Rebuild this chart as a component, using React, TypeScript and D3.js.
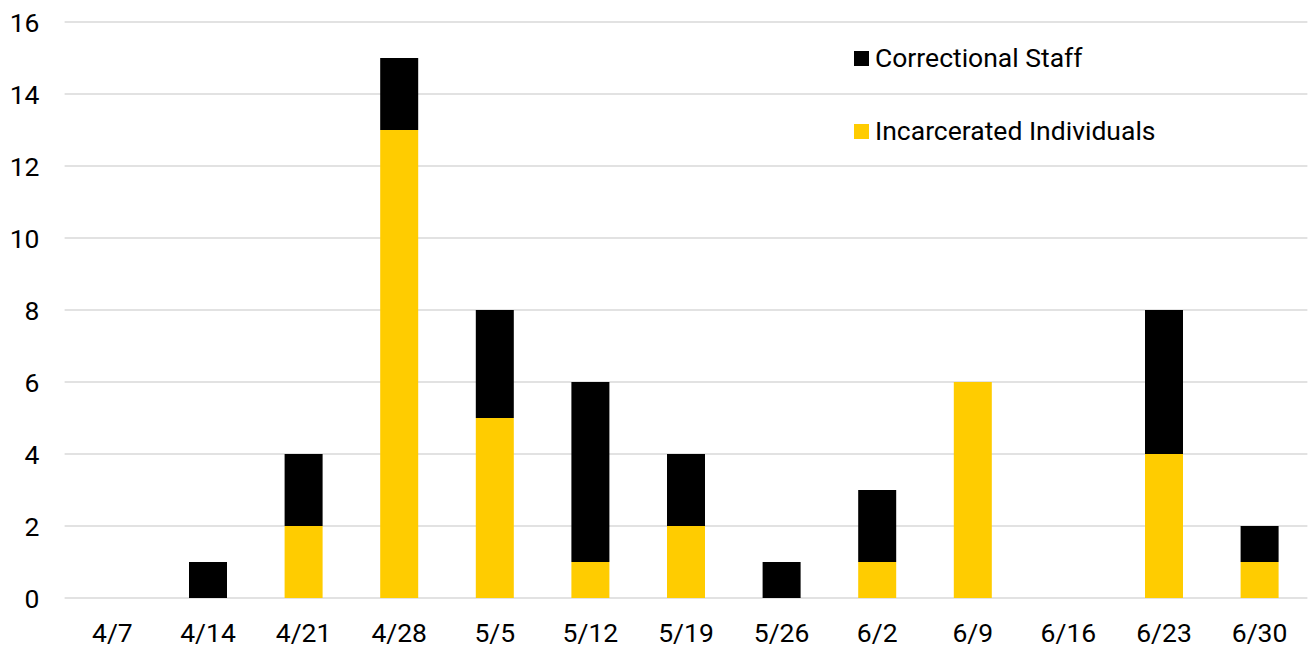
import React from "react";
import * as d3 from "d3";

const categories = ["4/7", "4/14", "4/21", "4/28", "5/5", "5/12", "5/19", "5/26", "6/2", "6/9", "6/16", "6/23", "6/30"];
const incarcerated = [0, 0, 2, 13, 5, 1, 2, 0, 1, 6, 0, 4, 1];
const staff = [0, 1, 2, 2, 3, 5, 2, 1, 2, 0, 0, 4, 1];
const yTicks = [0, 2, 4, 6, 8, 10, 12, 14, 16];
const seriesNames = ["Correctional Staff", "Incarcerated Individuals"];
const seriesColors = ["#000000", "#FFCC00"];

export default function App() {
  const W = 1310, H = 648;
  const left = 64.6, right = 1307.4, top = 22, bottom = 598;
  const x = d3.scaleBand<string>().domain(categories).range([left, right]).paddingInner(0.6).paddingOuter(0.3);
  const y = d3.scaleLinear().domain([0, 16]).range([bottom, top]);
  const bw = 38;
  const font = "Roboto, sans-serif";
  const fs = 26.5;
  return (
    <svg width={W} height={H} style={{ position: "absolute", left: 0, top: 0 }} fontFamily={font}>
      {yTicks.map((t) => (
        <g key={t}>
          <line x1={left} x2={right} y1={y(t)} y2={y(t)} stroke="#d9d9d9" strokeWidth={1.5} />
          <text x={39.5} y={y(t) + 9.5} textAnchor="end" fontSize={fs} fill="#000">{t}</text>
        </g>
      ))}
      {categories.map((c, i) => {
        const cx = (x(c) as number) + x.bandwidth() / 2;
        return (
          <g key={c}>
            {incarcerated[i] > 0 && (
              <rect x={cx - bw / 2} width={bw} y={y(incarcerated[i])} height={y(0) - y(incarcerated[i])} fill={seriesColors[1]} />
            )}
            {staff[i] > 0 && (
              <rect x={cx - bw / 2} width={bw} y={y(incarcerated[i] + staff[i])} height={y(incarcerated[i]) - y(incarcerated[i] + staff[i])} fill={seriesColors[0]} />
            )}
            <text x={cx} y={642} textAnchor="middle" fontSize={fs} fill="#000">{c}</text>
          </g>
        );
      })}
      {seriesNames.map((n, i) => (
        <g key={n}>
          <rect x={854} y={51 + i * 73} width={15} height={15} fill={seriesColors[i]} />
          <text x={875} y={67 + i * 73} fontSize={fs} fill="#000">{n}</text>
        </g>
      ))}
    </svg>
  );
}
